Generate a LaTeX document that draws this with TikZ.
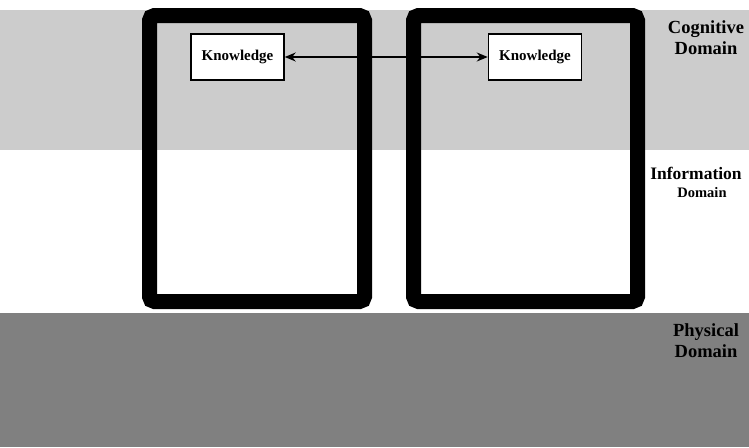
\documentclass[tikz,border=0pt]{standalone}
\usepackage{fontspec}
\setmainfont{Liberation Serif}
\usetikzlibrary{arrows.meta}
\tikzset{
  frame/.style={line width=15pt, draw=black, rounded corners=5pt},
  knowbox/.style={draw=black, line width=1.5pt, fill=white, minimum width=93pt, minimum height=46pt, inner sep=0pt, font=\bfseries\fontsize{15}{15}\selectfont},
  domlabel/.style={font=\bfseries\fontsize{18.5}{21}\selectfont, align=center, inner sep=0pt},
  link/.style={line width=1.3pt, {Stealth[length=11pt,width=9pt]}-{Stealth[length=11pt,width=9pt]}}
}
\begin{document}
\begin{tikzpicture}[x=1pt,y=-1pt]
\useasboundingbox (0,0) rectangle (749,447);
\fill[white] (0,0) rectangle (749,447);
\fill[black!20] (0,10) rectangle (749,150);
\fill[black!50] (0,313) rectangle (749,447);
\draw[frame] (149.5,15.5) rectangle (364.5,301.5);
\draw[frame] (413.5,15.5) rectangle (637.5,301.5);
\node[knowbox] (k1) at (237.5,57) {Knowledge};
\node[knowbox] (k2) at (535,57) {Knowledge};
\draw[link] (k1) -- (k2);
\node[domlabel] (cog) at (706,38) {Cognitive\\Domain};
\node[domlabel, font=\bfseries\fontsize{17.5}{18}\selectfont] (inf) at (696,173) {Information};
\node[domlabel, font=\bfseries\fontsize{14.5}{16}\selectfont] (infd) at (702,193) {Domain};
\node[domlabel] (phy) at (706,341) {Physical\\Domain};
\end{tikzpicture}
\end{document}
